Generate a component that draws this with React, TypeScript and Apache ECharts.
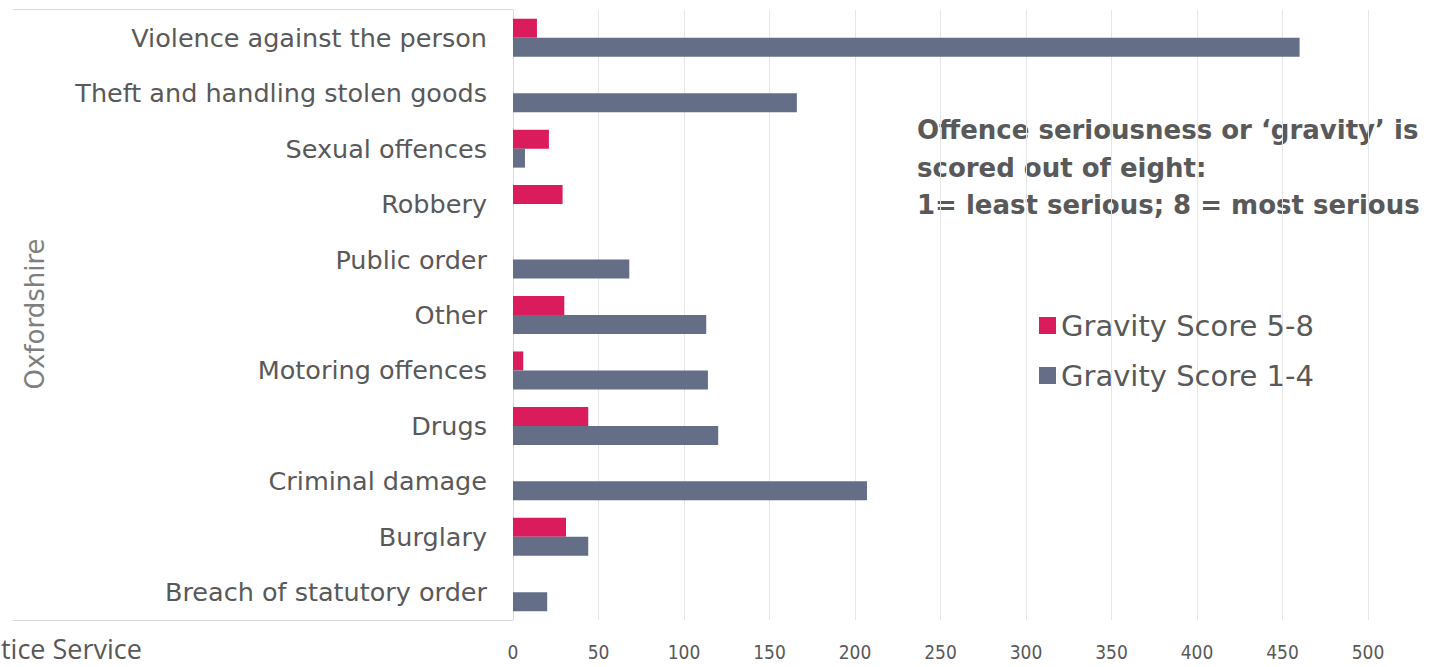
import React, { useEffect, useRef } from "react";
import * as echarts from "echarts";

const categories = [
  "Violence against the person",
  "Theft and handling stolen goods",
  "Sexual offences",
  "Robbery",
  "Public order",
  "Other",
  "Motoring offences",
  "Drugs",
  "Criminal damage",
  "Burglary",
  "Breach of statutory order",
];
const gravity58 = [14, 0, 21, 29, 0, 30, 6, 44, 0, 31, 0];
const gravity14 = [460, 166, 7, 0, 68, 113, 114, 120, 207, 44, 20];
const seriesNames = ["Gravity Score 5-8", "Gravity Score 1-4"];
const noteLines = [
  "Offence seriousness or \u2018gravity\u2019 is",
  "scored out of eight:",
  "1= least serious; 8 = most serious",
];
const groupLabel = "Oxfordshire";
const sourceText = "tice Service";

const PINK = "#DB1C5C";
const SLATE = "#646E87";
const FONT = "DejaVu Sans";

export default function App() {
  const ref = useRef<HTMLDivElement>(null);
  useEffect(() => {
    if (!ref.current) return;
    const chart = echarts.init(ref.current, undefined, { renderer: "svg" });
    chart.setOption({
      animation: false,
      textStyle: { fontFamily: FONT },
      grid: { left: 513, right: 79, top: 10, bottom: 47, containLabel: false },
      legend: {
        orient: "vertical",
        left: 1034,
        top: 306,
        itemWidth: 17,
        itemHeight: 17,
        itemGap: 21,
        icon: "rect",
        textStyle: { fontSize: 29, color: "#595959", fontFamily: FONT },
        data: seriesNames,
      },
      xAxis: {
        type: "value",
        min: 0,
        max: 500,
        interval: 50,
        axisLine: { show: false },
        axisTick: { show: false },
        splitLine: { show: true, lineStyle: { color: "#E6E6E6", width: 1 } },
        axisLabel: { fontSize: 19, color: "#595959", margin: 22, fontFamily: "Liberation Sans Narrow, DejaVu Sans Condensed, " + FONT },
      },
      yAxis: {
        type: "category",
        inverse: true,
        data: categories,
        axisLine: { show: true, lineStyle: { color: "#D9D9D9", width: 1 } },
        axisTick: { show: false },
        axisLabel: { fontSize: 25.5, color: "#595959", margin: 26, fontFamily: FONT },
      },
      series: [
        {
          name: seriesNames[0],
          type: "bar",
          data: gravity58,
          barWidth: 19,
          barGap: "0%",
          itemStyle: { color: PINK },
        },
        {
          name: seriesNames[1],
          type: "bar",
          data: gravity14,
          barWidth: 19,
          barGap: "0%",
          itemStyle: { color: SLATE },
        },
      ],
      graphic: [
        { type: "line", shape: { x1: 13, y1: 9.5, x2: 513, y2: 9.5 }, style: { stroke: "#D9D9D9", lineWidth: 1 } },
        { type: "line", shape: { x1: 13, y1: 620.5, x2: 513, y2: 620.5 }, style: { stroke: "#D9D9D9", lineWidth: 1 } },
        {
          type: "text",
          x: 35,
          y: 314,
          rotation: Math.PI / 2,
          style: { text: groupLabel, fontSize: 26, fill: "#7F7F7F", fontFamily: FONT, align: "center", verticalAlign: "middle" },
        },
        ...noteLines.map((t, i) => ({
          type: "text",
          left: 917,
          top: 117 + i * 37.5,
          style: { text: t, fontSize: 26, fontWeight: "bold", fill: "#595959", fontFamily: FONT },
        })),
        {
          type: "text",
          left: 1,
          top: 634,
          style: { text: sourceText, fontSize: 27, fill: "#595959", fontFamily: "Open Sans", lineHeight: 28 },
        },
      ],
    });
    return () => chart.dispose();
  }, []);
  return <div ref={ref} style={{ position: "fixed", left: 0, top: 0, width: 1447, height: 667, background: "#fff" }} />;
}
